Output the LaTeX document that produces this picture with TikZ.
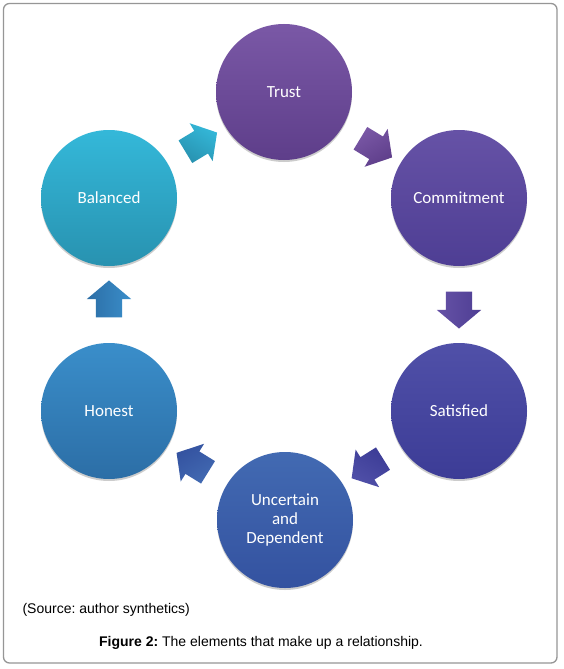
\documentclass[tikz,border=0pt]{standalone}
\usepackage{fontspec}
\setmainfont{Liberation Sans}
\newfontfamily\circfont{Carlito}
\usetikzlibrary{calc,shapes.arrows,shadows}
\frenchspacing

\definecolor{trustT}{RGB}{122,88,166}
\definecolor{trustB}{RGB}{94,62,138}
\definecolor{commitT}{RGB}{102,82,166}
\definecolor{commitB}{RGB}{78,62,148}
\definecolor{satisT}{RGB}{80,80,168}
\definecolor{satisB}{RGB}{60,60,150}
\definecolor{uncertT}{RGB}{66,106,178}
\definecolor{uncertB}{RGB}{52,82,160}
\definecolor{honestT}{RGB}{58,142,202}
\definecolor{honestB}{RGB}{44,110,166}
\definecolor{balT}{RGB}{52,184,217}
\definecolor{balB}{RGB}{40,146,176}
\definecolor{framegray}{RGB}{150,150,150}

\begin{document}
\begin{tikzpicture}[x=1pt, y=-1pt,
		circ/.style={circle, minimum size=136pt, inner sep=0pt, text=white, align=center,
			font=\circfont\fontsize{17}{19}\selectfont,
			drop shadow={shadow xshift=0pt, shadow yshift=-2pt, opacity=0.2, fill=black}},
		cyclearrow/.style={single arrow, minimum height=37pt, inner xsep=0pt, inner ysep=13pt,
			single arrow head extend=9pt, single arrow tip angle=100}]
		\useasboundingbox[fill=white] (0,0) rectangle (563,669);
		% frame
		\draw[framegray, line width=1.3pt, rounded corners=6pt] (3.5,3.5) rectangle (557,663);
		% the six circles
		\node[circ, top color=trustT, bottom color=trustB] (trust) at (284,92) {Trust};
		\node[circ, top color=commitT, bottom color=commitB] (commit) at (459,198) {Commitment};
		\node[circ, top color=satisT, bottom color=satisB] (satisfied) at (459,411) {Satisfied};
		\node[circ, top color=uncertT, bottom color=uncertB] (uncertain) at (285,520) {Uncertain\\and\\Dependent};
		\node[circ, top color=honestT, bottom color=honestB] (honest) at (109,411) {Honest};
		\node[circ, top color=balT, bottom color=balB] (balanced) at (109,198) {Balanced};
		% block arrows half way between neighbours
		\foreach \a/\b/\ca/\cb in {balanced/trust/balT/balB, trust/commit/trustT/trustB,
			commit/satisfied/commitT/commitB, satisfied/uncertain/satisT/satisB,
			uncertain/honest/uncertT/uncertB, honest/balanced/honestT/honestB} {
			\path let \p1=($(\b)-(\a)$), \n1={atan2(\y1,\x1)} in
				node[cyclearrow, rotate=\n1, top color=\ca, bottom color=\cb, shading angle=-\n1] (\a-arrow) at ($(\a)!0.5!(\b)$) {};
		}
		% captions
		\node[anchor=west, font=\fontsize{14}{16}\selectfont] (source) at (19,610) {(Source: author synthetics)};
		\node[font=\fontsize{14}{16}\selectfont] (caption) at (261,643) {\textbf{Figure 2:} The elements that make up a relationship.};
	\end{tikzpicture}
\end{document}
